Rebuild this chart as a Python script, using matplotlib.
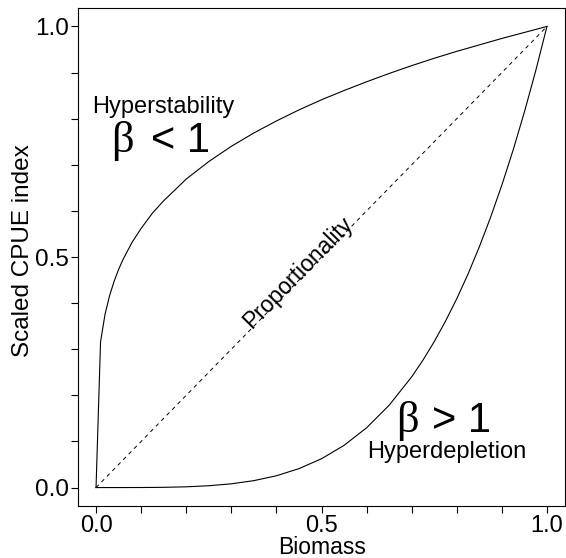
import matplotlib
matplotlib.use('Agg')
import matplotlib.pyplot as plt

plt.rcParams['font.family'] = ['Liberation Sans', 'DejaVu Sans']

# Hyperstability curve (beta < 1)
stab_biomass = [0.0, 0.01, 0.02, 0.03, 0.04, 0.05, 0.06, 0.08, 0.10, 0.125, 0.15,
                0.20, 0.25, 0.30, 0.35, 0.40, 0.45, 0.50, 0.55, 0.60, 0.65,
                0.70, 0.75, 0.80, 0.85, 0.90, 0.95, 1.00]
stab_cpue = [0.0, 0.316, 0.376, 0.416, 0.447, 0.473, 0.495, 0.532, 0.562, 0.595, 0.622,
             0.669, 0.707, 0.740, 0.769, 0.795, 0.819, 0.841, 0.861, 0.880, 0.898,
             0.915, 0.931, 0.946, 0.960, 0.974, 0.987, 1.0]

# Hyperdepletion curve (beta > 1)
depl_biomass = [0.0, 0.05, 0.10, 0.15, 0.20, 0.25, 0.30, 0.35, 0.40, 0.45, 0.50,
                0.55, 0.60, 0.65, 0.70, 0.725, 0.75, 0.775, 0.80, 0.825, 0.85,
                0.875, 0.90, 0.925, 0.95, 0.975, 1.00]
depl_cpue = [0.0, 0.0, 0.0001, 0.0005, 0.0016, 0.0039, 0.0081, 0.015, 0.0256, 0.041, 0.0625,
             0.0915, 0.1296, 0.1785, 0.2401, 0.2763, 0.3164, 0.3608, 0.4096, 0.4632, 0.522,
             0.5862, 0.6561, 0.7321, 0.8145, 0.9037, 1.0]

# Proportionality line
prop_biomass = [0.0, 1.0]
prop_cpue = [0.0, 1.0]

tick_vals = [0.0, 0.1, 0.2, 0.3, 0.4, 0.5, 0.6, 0.7, 0.8, 0.9, 1.0]
tick_labels = ['0.0', '', '', '', '', '0.5', '', '', '', '', '1.0']

fig = plt.figure(figsize=(5.66, 5.58), dpi=100)
ax = fig.add_axes([78 / 566, 52 / 558, 487 / 566, 498 / 558])

ax.plot(stab_biomass, stab_cpue, color='black', lw=0.8)
ax.plot(depl_biomass, depl_cpue, color='black', lw=0.8)
ax.plot(prop_biomass, prop_cpue, color='black', lw=0.7, dashes=(4, 4))

ax.set_xlim(-0.04, 1.04)
ax.set_ylim(-0.04, 1.04)
ax.set_xticks(tick_vals)
ax.set_xticklabels(tick_labels)
ax.set_yticks(tick_vals)
ax.set_yticklabels(tick_labels)
ax.tick_params(direction='out', length=5, width=0.8, labelsize=17.5)
ax.tick_params(axis='x', pad=1.5, labelsize=17)
ax.tick_params(axis='y', pad=1.5)
for s in ax.spines.values():
    s.set_linewidth(0.8)

# axis titles placed in figure pixels (close to the tick labels, as in the original)
fig.text(322 / 566, 1 - 548 / 558, 'Biomass', fontsize=16.5, ha='center', va='center')
fig.text(23 / 566, 1 - 251 / 558, 'Scaled CPUE index', fontsize=17.5, ha='center',
         va='center', rotation=90)

ax.text(0.15, 0.8126, 'Hyperstability', fontsize=17, ha='center', va='baseline')
ax.text(0.034, 0.727, 'β', fontsize=32, ha='left', va='baseline', family='Liberation Serif')
ax.text(0.121, 0.727, '< 1', fontsize=30, ha='left', va='baseline')
ax.text(0.666, 0.121, 'β', fontsize=32, ha='left', va='baseline', family='Liberation Serif')
ax.text(0.745, 0.121, '> 1', fontsize=30, ha='left', va='baseline')
ax.text(0.777, 0.064, 'Hyperdepletion', fontsize=17, ha='center', va='baseline')
ax.text(0.447, 0.466, 'Proportionality', fontsize=16.5, ha='center', va='center',
        rotation=45.6, rotation_mode='anchor')

fig.savefig('out.png', dpi=100)
